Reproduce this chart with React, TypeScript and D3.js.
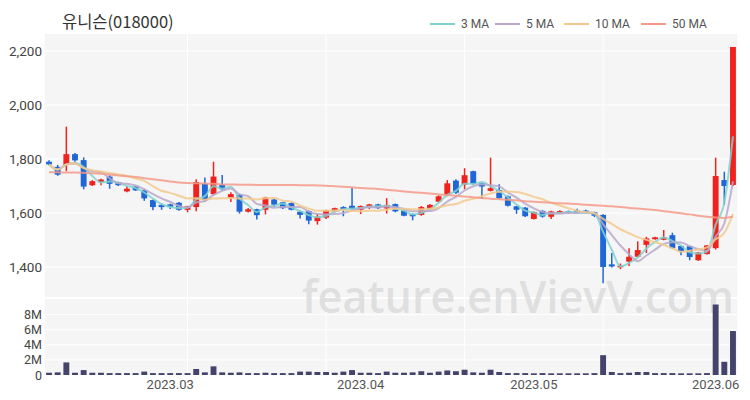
import React from "react";
import * as d3 from "d3";

const title = "유니슨(018000)";

const dates = [
  "2023-02-09","2023-02-10","2023-02-13","2023-02-14","2023-02-15","2023-02-16","2023-02-17","2023-02-20","2023-02-21","2023-02-22","2023-02-23","2023-02-24","2023-02-27","2023-02-28",
  "2023-03-02","2023-03-03","2023-03-06","2023-03-07","2023-03-08","2023-03-09","2023-03-10","2023-03-13","2023-03-14","2023-03-15","2023-03-16","2023-03-17","2023-03-20","2023-03-21","2023-03-22","2023-03-23","2023-03-24","2023-03-27","2023-03-28","2023-03-29","2023-03-30","2023-03-31",
  "2023-04-03","2023-04-04","2023-04-05","2023-04-06","2023-04-07","2023-04-10","2023-04-11","2023-04-12","2023-04-13","2023-04-14","2023-04-17","2023-04-18","2023-04-19","2023-04-20","2023-04-21","2023-04-24","2023-04-25","2023-04-26","2023-04-27","2023-04-28",
  "2023-05-01","2023-05-02","2023-05-03","2023-05-04","2023-05-08","2023-05-09","2023-05-10","2023-05-11","2023-05-12","2023-05-15","2023-05-16","2023-05-17","2023-05-18","2023-05-19","2023-05-22","2023-05-23","2023-05-24","2023-05-25","2023-05-26","2023-05-30","2023-05-31",
  "2023-06-01","2023-06-02","2023-06-05"
];

const opens = [
  1790,1771,1778,1818,1796,1703,1714,1735,1714,1680,1698,1684,1648,1630,1632,1638,1612,1622,1708,1670,
  1705,1656,1668,1605,1614,1612,1650,1640,1637,1605,1607,1570,1583,1606,1622,1627,1612,1622,1632,1617,
  1633,1608,1596,1593,1614,1642,1667,1720,1705,1755,1710,1682,1685,1662,1625,1620,1578,1608,1586,1600,
  1607,1610,1609,1603,1593,1410,1399,1420,1438,1482,1503,1501,1518,1478,1477,1425,1448,1470,1722,1704
];
const highs = [
  1795,1778,1920,1822,1806,1722,1727,1740,1716,1700,1700,1690,1650,1636,1634,1641,1627,1725,1732,1790,
  1741,1677,1670,1619,1616,1660,1653,1642,1639,1607,1609,1597,1612,1620,1625,1693,1628,1634,1634,1655,
  1635,1610,1598,1626,1633,1666,1722,1725,1766,1757,1712,1805,1707,1665,1627,1622,1606,1610,1608,1610,
  1609,1616,1612,1605,1595,1452,1413,1470,1495,1512,1512,1537,1527,1480,1479,1456,1482,1805,1753,2215
];
const lows = [
  1778,1738,1755,1790,1688,1700,1703,1690,1700,1677,1682,1645,1610,1612,1615,1608,1603,1607,1642,1665,
  1683,1641,1598,1602,1576,1595,1622,1615,1610,1580,1558,1557,1578,1603,1588,1612,1596,1615,1615,1598,
  1603,1588,1573,1590,1612,1640,1662,1670,1688,1705,1652,1680,1652,1624,1597,1585,1576,1583,1578,1598,
  1598,1598,1598,1585,1340,1398,1392,1404,1436,1452,1501,1499,1468,1444,1425,1423,1446,1465,1630,1700
];
const closes = [
  1780,1742,1818,1795,1698,1718,1724,1708,1703,1690,1684,1654,1622,1622,1622,1612,1625,1715,1648,1735,
  1688,1670,1605,1614,1592,1657,1631,1618,1612,1593,1572,1587,1610,1618,1615,1615,1626,1632,1618,1630,
  1606,1590,1588,1622,1630,1662,1710,1675,1740,1708,1698,1692,1655,1627,1612,1588,1604,1587,1606,1607,
  1600,1601,1601,1590,1400,1402,1405,1438,1463,1506,1510,1511,1470,1458,1437,1454,1480,1737,1700,2215
];
const volumesM = [
  0.3,0.35,1.67,0.3,0.65,0.3,0.3,0.25,0.25,0.25,0.25,0.45,0.25,0.25,0.25,0.25,0.25,0.8,0.35,1.15,
  0.35,0.3,0.35,0.25,0.25,0.3,0.25,0.25,0.25,0.45,0.45,0.4,0.4,0.3,0.45,0.65,0.3,0.3,0.25,0.45,
  0.3,0.3,0.35,0.5,0.3,0.45,0.6,0.5,0.7,0.35,0.3,0.7,0.4,0.25,0.25,0.25,0.22,0.25,0.22,0.22,
  0.22,0.22,0.22,0.25,2.63,0.4,0.25,0.3,0.4,0.4,0.25,0.25,0.25,0.22,0.22,0.22,0.25,9.35,1.75,5.83
];
const ma50 = [
  1751,1751,1750,1750,1749,1747,1745,1743,1739,1736,1733,1729,1725,1721,1717,1713,1711,1710,1709,1708,
  1706,1706,1705,1705,1704,1704,1704,1704,1704,1703,1703,1702,1701,1699,1697,1695,1693,1691,1689,1686,
  1683,1680,1677,1675,1672,1669,1667,1664,1661,1658,1656,1653,1651,1649,1647,1644,1642,1640,1638,1636,
  1635,1633,1631,1629,1627,1625,1622,1619,1617,1614,1611,1607,1603,1599,1595,1590,1586,1583,1582,1586
];

const priceTicks = [1400, 1600, 1800, 2000, 2200];
const volumeTicks = [0, 2, 4, 6, 8];
const monthTicks = ["2023.03", "2023.04", "2023.05", "2023.06"];

const maPeriods = [3, 5, 10];
const maLabels = ["3 MA", "5 MA", "10 MA", "50 MA"];
const maColors = ["#7fd3cf", "#b7a8cb", "#f2c98c", "#f59a88"];

const FONT = "'Noto Sans CJK KR', 'Noto Sans', sans-serif";
const NUMFONT = "Roboto, 'Liberation Sans', sans-serif";

function movingAvg(vals: number[], n: number) {
  return vals.map((_, i) => {
    const s = Math.max(0, i - n + 1);
    return d3.mean(vals.slice(s, i + 1)) as number;
  });
}

export default function App() {
  const N = dates.length;
  const idx = d3.range(N);
  const x = d3.scalePoint<number>().domain(idx).range([44.7, 737.3]).padding(0.5);
  const y = d3.scaleLinear().domain([1289, 2263]).range([297, 34]);
  const yv = d3.scaleLinear().domain([0, 10.08]).range([375, 299]);
  const step = x.step();
  const bodyW = step * 0.68;
  const left = 44.7, right = 737.3;

  const maSeries = [...maPeriods.map((p) => movingAvg(closes, p)), ma50];
  const line = d3.line<number>().x((_, i) => x(i) as number).y((v) => y(v)).curve(d3.curveMonotoneX);

  const gridIdx = idx.filter((i) => i > 0 && i % 16 === 0);
  const monthIdx = monthTicks.map((m) => dates.findIndex((d) => d.slice(0, 7).replace("-", ".") === m));

  const legendX = [430, 495, 564, 641];

  return (
    <svg width={750} height={400} style={{ position: "absolute", left: 0, top: 0, background: "#fff" }} fontFamily={FONT}>
      <text x={62} y={28} fontSize={16.5} fill="#333">{title}</text>
      {maLabels.map((l, i) => (
        <g key={l}>
          <line x1={legendX[i]} x2={legendX[i] + 25} y1={24} y2={24} stroke={maColors[i]} strokeWidth={2} />
          <text x={legendX[i] + 31} y={28} fontSize={12} fill="#555" fontFamily={NUMFONT}>{l}</text>
        </g>
      ))}

      {/* panels */}
      <rect x={left} y={34} width={right - left} height={263} fill="#f5f5f5" />
      <rect x={left} y={299} width={right - left} height={76} fill="#f5f5f5" />
      {priceTicks.map((t) => (
        <line key={t} x1={left} x2={right} y1={y(t)} y2={y(t)} stroke="#fff" strokeWidth={1} />
      ))}
      {volumeTicks.filter((t) => t > 0).map((t) => (
        <line key={t} x1={left} x2={right} y1={yv(t)} y2={yv(t)} stroke="#fff" strokeWidth={1} />
      ))}
      {gridIdx.map((i) => (
        <g key={i}>
          <line x1={x(i)} x2={x(i)} y1={34} y2={297} stroke="#fff" strokeWidth={1} />
          <line x1={x(i)} x2={x(i)} y1={299} y2={375} stroke="#fff" strokeWidth={1} />
        </g>
      ))}

      <text x={302} y={313} fontSize={46} fontWeight={600} fill="#dadada" fillOpacity={0.8} textLength={432} lengthAdjust="spacingAndGlyphs" fontFamily="'Open Sans', sans-serif">feature.enVievV.com</text>

      {/* axes labels */}
      {priceTicks.map((t) => (
        <text key={t} x={42} y={y(t) + 5} fontSize={13.5} fill="#444" textAnchor="end" fontFamily={NUMFONT}>{d3.format(",")(t)}</text>
      ))}
      {volumeTicks.map((t) => (
        <text key={t} x={42} y={yv(t) + 4.5} fontSize={12.5} fill="#444" textAnchor="end" fontFamily={NUMFONT}>{t === 0 ? "0" : `${t}M`}</text>
      ))}
      {monthIdx.map((i, k) => (
        <text key={k} x={x(i)} y={389} fontSize={13} fill="#555" textAnchor="middle" fontFamily={NUMFONT}>{monthTicks[k]}</text>
      ))}

      {/* candles */}
      {idx.map((i) => {
        const up = closes[i] >= opens[i];
        const c = up ? "#f0221e" : "#1f66d6";
        const cx = x(i) as number;
        const top = y(Math.max(opens[i], closes[i]));
        const bot = y(Math.min(opens[i], closes[i]));
        return (
          <g key={i}>
            <line x1={cx} x2={cx} y1={y(highs[i])} y2={y(lows[i])} stroke={c} strokeWidth={1.5} />
            <rect x={cx - bodyW / 2} y={top} width={bodyW} height={Math.max(1.5, bot - top)} fill={c} />
          </g>
        );
      })}

      {/* moving averages */}
      {maSeries.map((s, k) => (
        <path key={k} d={line(s) || ""} fill="none" stroke={maColors[k]} strokeWidth={2} strokeOpacity={0.85} />
      ))}

      {/* volume */}
      {idx.map((i) => (
        <rect key={i} x={(x(i) as number) - bodyW / 2} y={yv(volumesM[i])} width={bodyW} height={yv(0) - yv(volumesM[i])} fill="#43436c" />
      ))}
    </svg>
  );
}
